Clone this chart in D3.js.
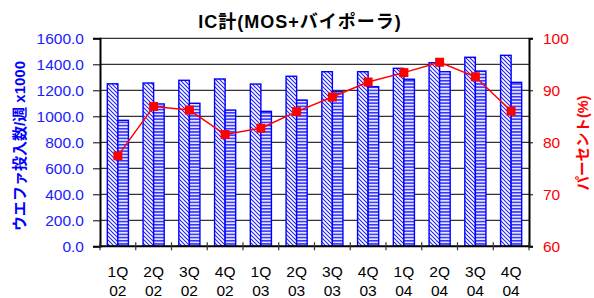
<!DOCTYPE html>
<html>
<head>
<meta charset="utf-8">
<script src="https://cdn.jsdelivr.net/npm/d3@7"></script>
<style>
body{margin:0;background:#fff;}
text{font-family:Arial,"Liberation Sans","Noto Sans CJK JP",sans-serif;}
</style>
</head>
<body>
<script>
// quarters
const quarters = ['1Q','2Q','3Q','4Q','1Q','2Q','3Q','4Q','1Q','2Q','3Q','4Q'];
const years = ['02','02','02','02','03','03','03','03','04','04','04','04'];
// wafer starts / week x1000
const capacity = [1250,1256,1277,1287,1248,1308,1343,1343,1369,1412,1454,1469];
const starts = [969,1095,1100,1048,1038,1125,1189,1228,1285,1343,1348,1261];
// percent
const percent = [77.4,86.9,86.2,81.5,82.7,85.9,88.7,91.6,93.4,95.4,92.6,86.0];
const leftTicks = [0,200,400,600,800,1000,1200,1400,1600];
const rightTicks = [60,70,80,90,100];

const w = 594, h = 298;
const L = 100, R = 529, T = 38.3, B = 246.3;
const blue = '#0000ff';
const red = '#ff0000';

const svg = d3.select('body').append('svg').attr('width',w).attr('height',h);

const defs = svg.append('defs');
const diag = defs.append('pattern').attr('id','diag').attr('patternUnits','userSpaceOnUse')
  .attr('width',4).attr('height',4);
diag.append('rect').attr('width',4).attr('height',4).attr('fill','#ffffff');
diag.append('path').attr('d','M-1,-1 L5,5 M-1,3 L1,5 M3,-1 L5,1').attr('stroke','#2222ee').attr('stroke-width',1.1);
const horiz = defs.append('pattern').attr('id','horiz').attr('patternUnits','userSpaceOnUse')
  .attr('width',4).attr('height',3.2);
horiz.append('rect').attr('width',4).attr('height',3.2).attr('fill','#e4e4ff');
horiz.append('rect').attr('width',4).attr('height',1.5).attr('fill','#3333ff');

const idx = d3.range(quarters.length);
const x0 = d3.scaleBand().domain(idx).range([L,R]).paddingInner(0.41).paddingOuter(0.205);
const x1 = d3.scaleBand().domain([0,1]).range([0,x0.bandwidth()]);
const step = x0.step();
const yL = d3.scaleLinear().domain([0,1600]).range([B,T]);
const yR = d3.scaleLinear().domain([60,100]).range([B,T]);

// gridlines
svg.append('g').selectAll('line').data(leftTicks.slice(1)).join('line')
  .attr('x1',L).attr('x2',R).attr('y1',d=>yL(d)).attr('y2',d=>yL(d))
  .attr('stroke','#000').attr('stroke-width',1);

// bars
const g = svg.append('g');
g.selectAll('rect.cap').data(idx).join('rect').attr('class','cap')
  .attr('x',i=>x0(i)+x1(0)).attr('width',x1.bandwidth())
  .attr('y',i=>yL(capacity[i])).attr('height',i=>B-yL(capacity[i]))
  .attr('fill','url(#diag)').attr('stroke',blue).attr('stroke-width',1.4);
g.selectAll('rect.st').data(idx).join('rect').attr('class','st')
  .attr('x',i=>x0(i)+x1(1)).attr('width',x1.bandwidth())
  .attr('y',i=>yL(starts[i])).attr('height',i=>B-yL(starts[i]))
  .attr('fill','url(#horiz)').attr('stroke',blue).attr('stroke-width',1.4);

// left axis
const axL = svg.append('g').attr('transform',`translate(${L},0)`)
  .call(d3.axisLeft(yL).tickValues(leftTicks).tickFormat(d=>d.toFixed(1)).tickSize(7).tickPadding(9));
axL.select('.domain').attr('stroke','#000').attr('stroke-width',2);
axL.selectAll('.tick line').attr('stroke','#000');
axL.selectAll('.tick text').attr('fill','#2020ff').style('font-size','15.5px');

// right axis
const axR = svg.append('g').attr('transform',`translate(${R},0)`)
  .call(d3.axisRight(yR).tickValues(rightTicks).tickSize(4).tickPadding(10));
axR.select('.domain').attr('stroke','#000').attr('stroke-width',2);
axR.selectAll('.tick line').attr('stroke','#000');
axR.selectAll('.tick text').attr('fill',red).style('font-size','15.5px');

// bottom axis
svg.append('line').attr('x1',L-1).attr('x2',R+1).attr('y1',B).attr('y2',B)
  .attr('stroke','#000').attr('stroke-width',2);
svg.append('g').selectAll('line').data(d3.range(quarters.length+1)).join('line')
  .attr('x1',i=>L+i*step).attr('x2',i=>L+i*step).attr('y1',B-4).attr('y2',B+4)
  .attr('stroke','#333').attr('stroke-width',1.2);
const xl = svg.append('g').selectAll('text').data(idx).join('text')
  .attr('text-anchor','middle').attr('fill','#000').style('font-size','15.5px');
xl.append('tspan').attr('x',i=>x0(i)+x0.bandwidth()/2).attr('y',277).text(i=>quarters[i]);
xl.append('tspan').attr('x',i=>x0(i)+x0.bandwidth()/2).attr('y',296).text(i=>years[i]);

// percent line
const cx = i=>x0(i)+x0.bandwidth()/2;
svg.append('path').datum(idx)
  .attr('d',d3.line().x(cx).y(i=>yR(percent[i])))
  .attr('fill','none').attr('stroke',red).attr('stroke-width',1.5);
svg.append('g').selectAll('rect').data(idx).join('rect')
  .attr('x',i=>cx(i)-4.5).attr('y',i=>yR(percent[i])-4.5)
  .attr('width',9).attr('height',9).attr('fill',red);

// titles
svg.append('text').attr('x',300).attr('y',28).attr('text-anchor','middle')
  .style('font-size','18px').style('font-weight','bold').style('letter-spacing','1px').attr('fill','#000')
  .text('IC計(MOS+バイポーラ)');
svg.append('text').attr('transform','translate(25,146) rotate(-90)').attr('text-anchor','middle')
  .style('font-size','15px').style('font-weight','bold').attr('fill',blue)
  .text('ウエファ投入数/週 x1000');
svg.append('text').attr('transform','translate(588,143) rotate(-90)').attr('text-anchor','middle')
  .style('font-size','14.5px').style('font-weight','bold').attr('fill',red)
  .text('パーセント(%)');
</script>
</body>
</html>
